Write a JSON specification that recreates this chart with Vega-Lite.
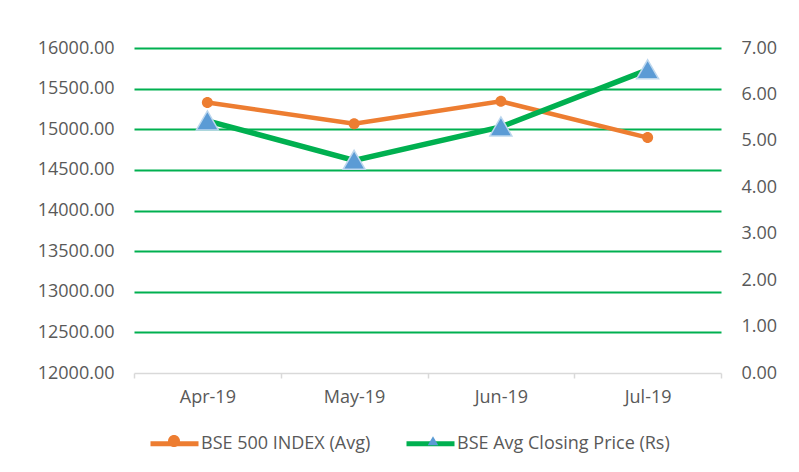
{
  "$schema": "https://vega.github.io/schema/vega-lite/v6.json",
  "width": 587,
  "height": 325,
  "autosize": {"type": "none"},
  "padding": {"left": 134, "top": 48, "right": 78, "bottom": 99},
  "background": "white",
  "config": {
    "view": {"stroke": null},
    "font": "Open Sans",
    "axis": {"labelFont": "Open Sans", "labelFontSize": 18, "labelColor": "#595959"},
    "legend": {"labelFont": "Open Sans", "labelFontSize": 18, "labelColor": "#595959", "labelLimit": 400}
  },
  "data": {
    "values": [
      {"month": "Apr-19", "series": "BSE 500 INDEX (Avg)", "value": 15328},
      {"month": "May-19", "series": "BSE 500 INDEX (Avg)", "value": 15069},
      {"month": "Jun-19", "series": "BSE 500 INDEX (Avg)", "value": 15344},
      {"month": "Jul-19", "series": "BSE 500 INDEX (Avg)", "value": 14897},
      {"month": "Apr-19", "series": "BSE Avg Closing Price (Rs)", "value": 5.43},
      {"month": "May-19", "series": "BSE Avg Closing Price (Rs)", "value": 4.58},
      {"month": "Jun-19", "series": "BSE Avg Closing Price (Rs)", "value": 5.30},
      {"month": "Jul-19", "series": "BSE Avg Closing Price (Rs)", "value": 6.53}
    ]
  },
  "encoding": {
    "x": {
      "field": "month",
      "type": "ordinal",
      "sort": ["Apr-19", "May-19", "Jun-19", "Jul-19"],
      "scale": {"type": "band", "paddingInner": 0, "paddingOuter": 0},
      "axis": {
        "title": null,
        "labelAngle": 0,
        "tickBand": "extent",
        "domainColor": "#D9D9D9",
        "domainWidth": 1.5,
        "tickColor": "#D9D9D9",
        "tickWidth": 1.5,
        "tickSize": 5,
        "labelPadding": 10,
        "grid": false
      }
    }
  },
  "layer": [
    {
      "transform": [{"filter": "datum.series == 'BSE 500 INDEX (Avg)'"}],
      "encoding": {
        "y": {
          "field": "value",
          "type": "quantitative",
          "scale": {"domain": [12000, 16000], "nice": false, "zero": false},
          "axis": {
            "title": null,
            "orient": "left",
            "values": [12000, 12500, 13000, 13500, 14000, 14500, 15000, 15500, 16000],
            "format": ".2f",
            "domain": false,
            "ticks": false,
            "labelPadding": 20,
            "grid": true,
            "gridColor": {"condition": {"test": "datum.value === 12000", "value": "transparent"}, "value": "#00B050"},
            "gridWidth": 2
          }
        }
      },
      "layer": [
        {
          "mark": {"type": "line", "strokeWidth": 4.5},
          "encoding": {
            "color": {
              "field": "series",
              "type": "nominal",
              "scale": {"domain": ["BSE 500 INDEX (Avg)", "BSE Avg Closing Price (Rs)"], "range": ["#ED7D31", "#00B050"]},
              "legend": {
                "title": null,
                "orient": "none",
                "legendX": 14,
                "legendY": 369,
                "direction": "horizontal",
                "symbolType": "stroke",
                "symbolSize": 2304,
                "symbolStrokeWidth": 5,
                "labelOffset": 0,
                "columnPadding": 25
              }
            }
          }
        },
        {
          "mark": {"type": "point", "filled": true, "size": 1936, "opacity": 1},
          "encoding": {
            "shape": {
              "field": "series",
              "type": "nominal",
              "scale": {"range": ["M-0.25,0A0.25,0.25 0 1,0 0.25,0A0.25,0.25 0 1,0 -0.25,0Z", "M0,-0.2L0.22,0.18L-0.22,0.18Z"]},
              "legend": {
                "title": null,
                "orient": "none",
                "legendX": 16,
                "legendY": 369,
                "direction": "horizontal",
                "symbolSize": 2304,
                "symbolStrokeWidth": 0,
                "symbolOpacity": 1,
                "labelColor": "transparent",
                "labelOffset": 0,
                "columnPadding": 41
              }
            },
            "fill": {
              "field": "series",
              "type": "nominal",
              "scale": {"range": ["#ED7D31", "#5B9BD5"]},
              "legend": {
                "title": null,
                "orient": "none",
                "legendX": 16,
                "legendY": 369,
                "direction": "horizontal",
                "symbolSize": 2304,
                "symbolStrokeWidth": 0,
                "symbolOpacity": 1,
                "labelColor": "transparent",
                "labelOffset": 0,
                "columnPadding": 41
              }
            }
          }
        }
      ]
    },
    {
      "transform": [{"filter": "datum.series == 'BSE Avg Closing Price (Rs)'"}],
      "encoding": {
        "y": {
          "field": "value",
          "type": "quantitative",
          "scale": {"domain": [0, 7], "nice": false},
          "axis": {
            "title": null,
            "orient": "right",
            "values": [0, 1, 2, 3, 4, 5, 6, 7],
            "format": ".2f",
            "domain": false,
            "ticks": false,
            "labelPadding": 20,
            "grid": false
          }
        }
      },
      "layer": [
        {
          "mark": {"type": "line", "strokeWidth": 5.5},
          "encoding": {
            "color": {
              "field": "series",
              "type": "nominal",
              "scale": {"domain": ["BSE 500 INDEX (Avg)", "BSE Avg Closing Price (Rs)"], "range": ["#ED7D31", "#00B050"]},
              "legend": {
                "title": null,
                "orient": "none",
                "legendX": 14,
                "legendY": 369,
                "direction": "horizontal",
                "symbolType": "stroke",
                "symbolSize": 2304,
                "symbolStrokeWidth": 5,
                "labelOffset": 0,
                "columnPadding": 25
              }
            }
          }
        },
        {
          "mark": {"type": "point", "filled": true, "size": 10000, "opacity": 1, "stroke": "#BDD7EE", "strokeWidth": 1.5},
          "encoding": {
            "shape": {
              "field": "series",
              "type": "nominal",
              "scale": {"range": ["M-0.25,0A0.25,0.25 0 1,0 0.25,0A0.25,0.25 0 1,0 -0.25,0Z", "M0,-0.2L0.22,0.18L-0.22,0.18Z"]},
              "legend": {
                "title": null,
                "orient": "none",
                "legendX": 16,
                "legendY": 369,
                "direction": "horizontal",
                "symbolSize": 2304,
                "symbolStrokeWidth": 0,
                "symbolOpacity": 1,
                "labelColor": "transparent",
                "labelOffset": 0,
                "columnPadding": 41
              }
            },
            "fill": {
              "field": "series",
              "type": "nominal",
              "scale": {"range": ["#ED7D31", "#5B9BD5"]},
              "legend": {
                "title": null,
                "orient": "none",
                "legendX": 16,
                "legendY": 369,
                "direction": "horizontal",
                "symbolSize": 2304,
                "symbolStrokeWidth": 0,
                "symbolOpacity": 1,
                "labelColor": "transparent",
                "labelOffset": 0,
                "columnPadding": 41
              }
            }
          }
        }
      ]
    }
  ],
  "resolve": {"scale": {"y": "independent"}}
}
